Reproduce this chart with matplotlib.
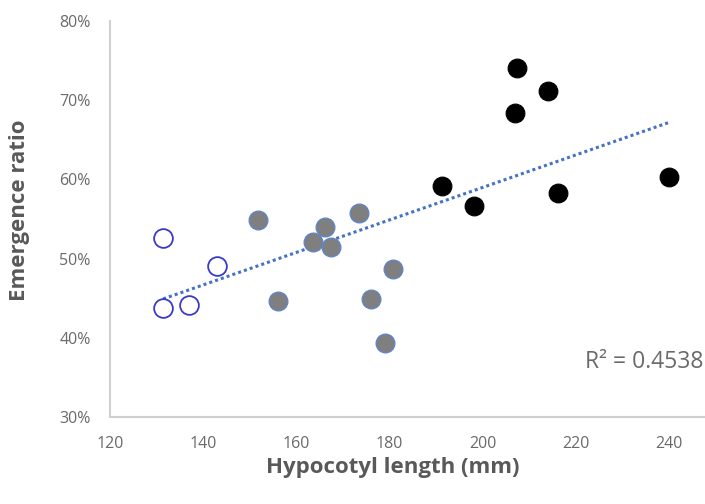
import matplotlib
matplotlib.use("Agg")
import matplotlib.pyplot as plt
import numpy as np

# Data
open_x = [131.4, 131.4, 137.0, 143.0]
open_y = [52.6, 43.7, 44.2, 49.1]
gray_x = [151.8, 156.1, 163.6, 166.1, 167.4, 173.5, 176.0, 179.0, 180.8]
gray_y = [54.9, 44.6, 52.1, 54.0, 51.5, 55.8, 44.9, 39.4, 48.7]
black_x = [191.3, 198.1, 206.9, 207.3, 214.0, 216.1, 240.0]
black_y = [59.2, 56.6, 68.4, 74.1, 71.2, 58.3, 60.3]
r2_text = "R² = 0.4538"
x_ticks = [120, 140, 160, 180, 200, 220, 240]
y_ticks = [30, 40, 50, 60, 70, 80]

plt.rcParams['font.family'] = ['Open Sans', 'DejaVu Sans']
txt = '#595959'

fig = plt.figure(figsize=(7.05, 5.04), dpi=100)
ax = fig.add_axes([110/705, 87/504, 606/705, 396/504])

ms = 13.5
ax.plot(open_x, open_y, 'o', ms=ms, mfc='white', mec='#3a3ac8', mew=1.3, zorder=3)
ax.plot(gray_x, gray_y, 'o', ms=ms, mfc='#7f7f7f', mec='#5b85d0', mew=0.9, zorder=3)
ax.plot(black_x, black_y, 'o', ms=ms, mfc='black', mec='black', mew=0.8, zorder=3)

all_x = np.array(open_x + gray_x + black_x)
all_y = np.array(open_y + gray_y + black_y)
k, b = np.polyfit(all_x, all_y, 1)
xs = np.array([all_x.min(), all_x.max()])
ax.plot(xs, k * xs + b, ls=(0, (1, 1)), color='#4472C4', lw=2.2, zorder=2)

ax.set_xlim(120, 250)
ax.set_ylim(30, 80)
ax.set_xticks(x_ticks)
ax.set_yticks(y_ticks)
ax.set_yticklabels([f"{v}%" for v in y_ticks])
ax.tick_params(length=0, labelsize=11.5, colors='#6a6a6a')
ax.tick_params(axis='x', pad=14)
ax.tick_params(axis='y', pad=14)
for s in ['top', 'right']:
    ax.spines[s].set_visible(False)
for s in ['left', 'bottom']:
    ax.spines[s].set_color('#d0d0d0')
    ax.spines[s].set_linewidth(1.5)

fig.text(393/705, 1 - 467/504, "Hypocotyl length (mm)", ha='center', va='center',
         fontsize=16, fontweight='bold', color=txt)
fig.text(20/705, 1 - 210/504, "Emergence ratio", ha='center', va='center',
         rotation=90, fontsize=16, fontweight='bold', color=txt)
fig.text(703/705, 1 - 362/504, r2_text, ha='right', va='center', fontsize=16.5, color='#6a6a6a')

fig.savefig("out.png", dpi=100)
